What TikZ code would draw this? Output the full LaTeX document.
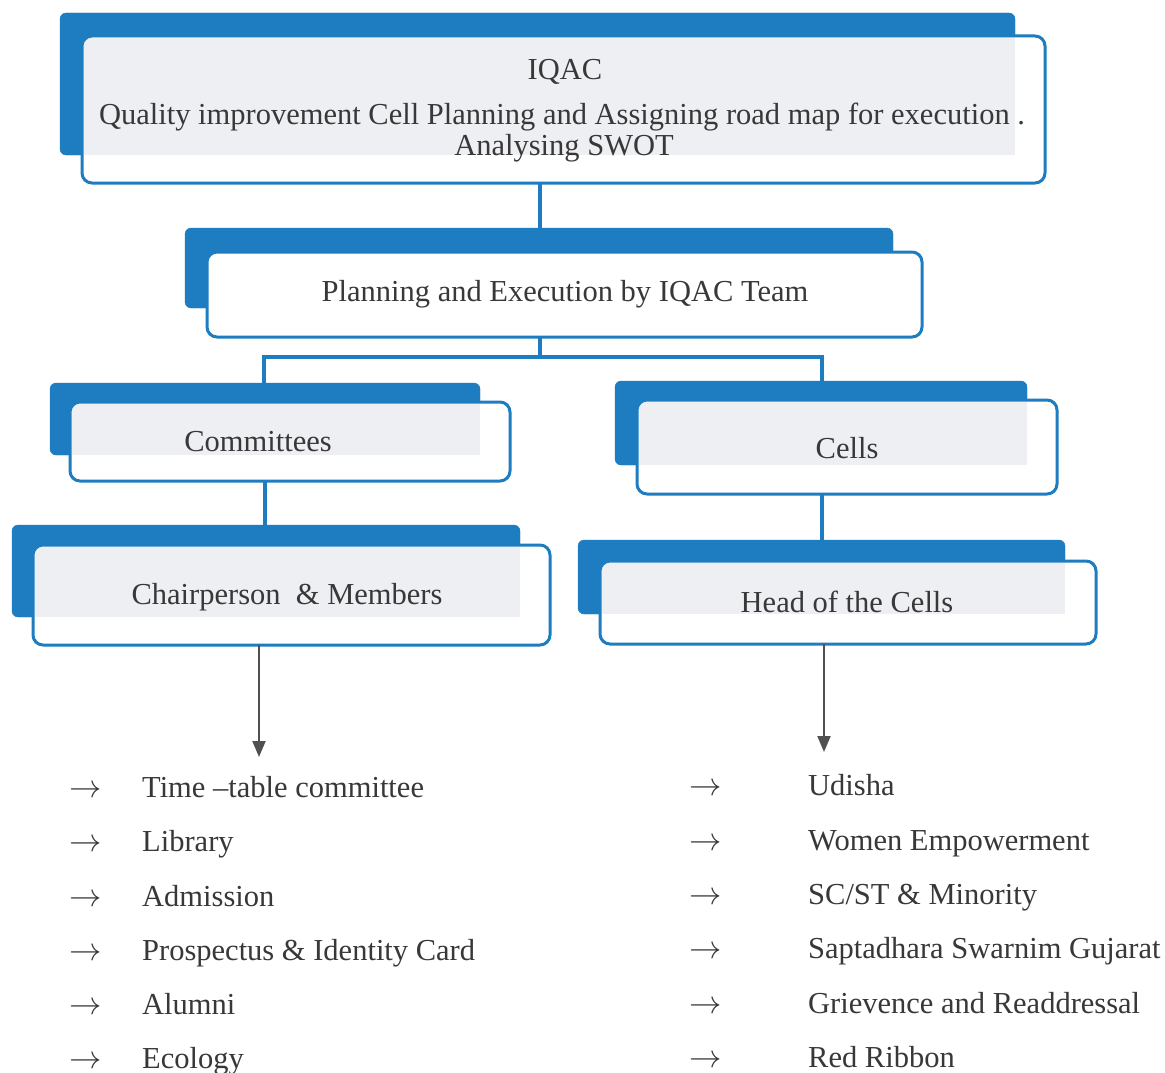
\documentclass[tikz,border=0pt]{standalone}
\usepackage{fontspec}
\usepackage{graphicx}
\setmainfont{Liberation Serif}
\usetikzlibrary{fit,calc,arrows.meta}
\definecolor{orgblue}{RGB}{30,124,192}
\definecolor{bandgrey}{RGB}{237,239,243}
\definecolor{inkgrey}{RGB}{56,56,56}
\definecolor{arrowgrey}{RGB}{80,80,80}
\tikzset{
  backbox/.style={fill=orgblue, draw=orgblue, rounded corners=6pt, inner sep=0pt, outer sep=0pt},
  frontbox/.style={fill=white, rounded corners=10pt, inner sep=0pt, outer sep=0pt},
  frontline/.style={draw=orgblue, line width=3pt, rounded corners=10pt},
  band/.style={fill=bandgrey},
  link/.style={draw=orgblue, line width=3.5pt},
  downarrow/.style={draw=arrowgrey, line width=2pt, -{Triangle[width=13pt,length=16pt]}},
  boxtext/.style={text=inkgrey, font=\fontsize{30.5}{36}\selectfont, inner sep=0pt},
  listtext/.style={text=inkgrey, font=\fontsize{30.5}{36}\selectfont, inner sep=0pt, anchor=base west},
}
% back tab + front panel of one chart box: name, back corners, front corners
\newcommand{\orgbox}[9]{%
  \node[backbox, fit={(#2,#3) (#4,#5)}] (#1B) {};
  \node[frontbox, fit={(#6,#7) (#8,#9)}] (#1F) {};
}
% light shading inside a front panel, up to the edge of its back tab
\newcommand{\panelband}[1]{%
  \begin{scope}
    \clip[rounded corners=10pt] (#1F.north west) rectangle (#1F.south east);
    \fill[band] ($(#1F.north west)+(1.5,1.5)$) rectangle (#1B.south east);
  \end{scope}
}
\newcommand{\panelline}[1]{\draw[frontline] (#1F.north west) rectangle (#1F.south east);}
\newcommand{\listarrow}{\scalebox{1.3}{\(\rightarrow\)}}
\begin{document}
\begin{tikzpicture}[x=1pt,y=-1pt]
\fill[white] (0,0) rectangle (1165,1073);
\useasboundingbox (0,0) rectangle (1165,1073);

% boxes
\orgbox{iqac}{60}{13}{1015}{155}{82}{36}{1045}{183}
\panelband{iqac}\panelline{iqac}
\orgbox{plan}{185}{228}{893}{308}{207}{252}{922}{337}
\panelline{plan}
\orgbox{comm}{50}{383}{480}{455}{70}{402}{510}{481}
\panelband{comm}\panelline{comm}
\orgbox{cells}{615}{381}{1027}{465}{637}{400}{1057}{494}
\panelband{cells}\panelline{cells}
\orgbox{chair}{12}{525}{520}{617}{33}{545}{550}{645}
\panelband{chair}\panelline{chair}
\orgbox{head}{578}{540}{1065}{614}{600}{561}{1096}{644}
\panelband{head}\panelline{head}

% box texts
\node[boxtext] (t1) at (565,72) {IQAC};
\node[boxtext] (t2) at (562,117) {Quality improvement Cell Planning and Assigning road map for execution .};
\node[boxtext] (t3) at (564,148) {Analysing SWOT};
\node[boxtext] (tplan) at (565,294) {Planning and Execution by IQAC Team};
\node[boxtext] (tcomm) at (258,442) {Committees};
\node[boxtext] (tcells) at (847,448) {Cells};
\node[boxtext] (tchair) at (287,597) {Chairperson\ \ \& Members};
\node[boxtext] (thead) at (847,602) {Head of the Cells};

% connectors
\coordinate (mid) at (540,0);
\coordinate (brL) at (264,357);
\coordinate (brR) at (822,357);
\coordinate (cx) at (265,0);
\draw[link] (mid |- iqacF.south) -- (mid |- planB.north);
\draw[link] (mid |- planF.south) -- (mid |- brL);
\draw[link] (brL |- commB.north) -- (brL) -- (brR) -- (brR |- cellsB.north);
\draw[link] (cx |- commF.south) -- (cx |- chairB.north);
\draw[link] (brR |- cellsF.south) -- (brR |- headB.north);

\coordinate (la) at (259,757);
\coordinate (ra) at (824,752);
\draw[downarrow] (la |- chairF.south) -- (la);
\draw[downarrow] (ra |- headF.south) -- (ra);

% committee list
\foreach \y/\txt [count=\i] in {797/{Time --table committee}, 851/Library, 906/Admission, 960/{Prospectus \& Identity Card}, 1014/Alumni, 1068/Ecology}{
  \node[listtext] (la\i) at (69,\y) {\listarrow};
  \node[listtext] (lt\i) at (142,\y) {\txt};
}
% cell list
\foreach \y/\txt [count=\i] in {795/Udisha, 850/{Women Empowerment}, 904/{SC/ST \& Minority}, 958/{Saptadhara Swarnim Gujarat}, 1013/{Grievence and Readdressal}, 1067/{Red Ribbon}}{
  \node[listtext] (ra\i) at (689,\y) {\listarrow};
  \node[listtext] (rt\i) at (808,\y) {\txt};
}
\end{tikzpicture}
\end{document}
